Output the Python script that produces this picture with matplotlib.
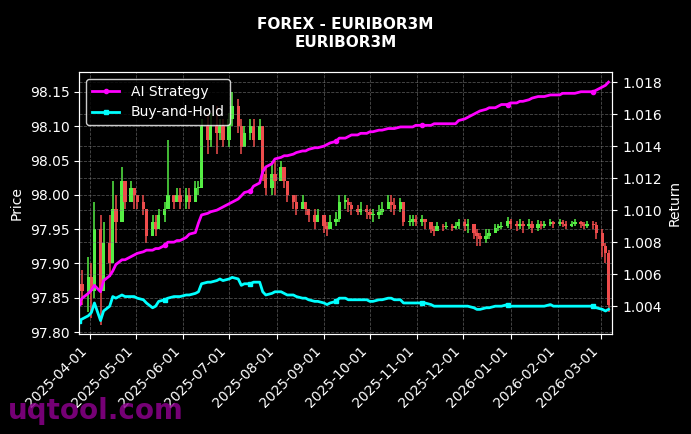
import matplotlib
matplotlib.use("Agg")
import matplotlib.pyplot as plt
import matplotlib.dates as mdates
import numpy as np
import pandas as pd

# price candles (every second trading day)
close = [97.87, 97.86, 97.88, 97.86, 97.95, 97.86, 97.93, 97.90, 97.98, 97.96,
         98.02, 97.99, 98.01, 98.00, 97.99, 97.98, 97.94, 97.96, 97.95, 97.97,
         97.98, 98.00, 97.99, 98.00, 97.99, 98.00, 97.99, 98.01, 98.01, 98.10,
         98.08, 98.10, 98.09, 98.10, 98.08, 98.11, 98.13, 98.10, 98.07, 98.09,
         98.10, 98.08, 98.10, 98.03, 98.01, 98.03, 98.02, 98.04, 98.02, 98.00,
         97.99, 97.98, 97.99, 97.98, 97.97, 97.96, 97.97, 97.955, 97.95, 97.96,
         97.965, 97.99, 97.99, 97.985, 97.98, 97.975, 97.98, 97.975, 97.97, 97.97,
         97.975, 97.98, 97.99, 97.985, 97.98, 97.99, 97.96, 97.96, 97.965, 97.96,
         97.965, 97.96, 97.95, 97.948, 97.955, 97.953, 97.955, 97.952, 97.955, 97.96,
         97.955, 97.958, 97.945, 97.94, 97.935, 97.94, 97.945, 97.952, 97.953, 97.955,
         97.962, 97.958, 97.955, 97.958, 97.955, 97.958, 97.952, 97.957, 97.955, 97.958,
         97.96, 97.957, 97.96, 97.958, 97.955, 97.958, 97.96, 97.957, 97.955, 97.958,
         97.956, 97.945, 97.925, 97.915, 97.84]
high = [97.89, 97.89, 97.91, 97.90, 97.99, 97.97, 97.96, 97.97, 98.02, 98.00,
        98.04, 98.02, 98.02, 98.01, 98.00, 98.00, 97.98, 97.97, 97.97, 97.98,
        97.99, 98.08, 98.00, 98.01, 98.01, 98.01, 98.01, 98.02, 98.02, 98.11,
        98.12, 98.12, 98.13, 98.11, 98.11, 98.12, 98.15, 98.14, 98.11, 98.10,
        98.11, 98.11, 98.11, 98.10, 98.04, 98.05, 98.05, 98.05, 98.04, 98.02,
        98.00, 98.00, 98.00, 97.99, 97.98, 97.98, 97.98, 97.97, 97.96, 97.97,
        97.975, 98.00, 98.00, 97.995, 97.99, 97.985, 97.99, 97.985, 97.98, 97.98,
        97.985, 97.99, 98.00, 98.00, 97.995, 97.995, 97.99, 97.97, 97.97, 97.97,
        97.97, 97.965, 97.96, 97.955, 97.96, 97.958, 97.96, 97.958, 97.96, 97.965,
        97.965, 97.965, 97.955, 97.95, 97.945, 97.95, 97.95, 97.957, 97.958, 97.96,
        97.968, 97.965, 97.962, 97.965, 97.962, 97.965, 97.962, 97.963, 97.962, 97.962,
        97.965, 97.962, 97.965, 97.963, 97.962, 97.962, 97.965, 97.962, 97.96, 97.962,
        97.962, 97.96, 97.95, 97.93, 97.92]
low = [97.85, 97.84, 97.83, 97.82, 97.85, 97.81, 97.86, 97.88, 97.91, 97.93,
       97.97, 97.98, 97.99, 97.98, 97.98, 97.97, 97.93, 97.94, 97.94, 97.95,
       97.96, 97.98, 97.98, 97.99, 97.98, 97.98, 97.98, 97.99, 98.00, 98.01,
       98.06, 98.07, 98.06, 98.08, 98.07, 98.07, 98.10, 98.09, 98.06, 98.08,
       98.08, 98.07, 98.08, 98.02, 98.00, 98.00, 98.00, 98.02, 98.01, 97.99,
       97.98, 97.97, 97.98, 97.97, 97.96, 97.95, 97.96, 97.945, 97.94, 97.955,
       97.955, 97.96, 97.98, 97.975, 97.97, 97.97, 97.97, 97.965, 97.965, 97.96,
       97.965, 97.97, 97.98, 97.975, 97.97, 97.975, 97.955, 97.955, 97.955, 97.955,
       97.955, 97.95, 97.945, 97.94, 97.95, 97.948, 97.95, 97.948, 97.95, 97.95,
       97.948, 97.945, 97.935, 97.925, 97.925, 97.93, 97.935, 97.948, 97.948, 97.95,
       97.952, 97.95, 97.948, 97.95, 97.945, 97.95, 97.945, 97.948, 97.95, 97.952,
       97.955, 97.952, 97.955, 97.953, 97.95, 97.953, 97.955, 97.952, 97.95, 97.952,
       97.95, 97.935, 97.91, 97.90, 97.83]
first_open = 97.86

# cumulative returns
ai_strategy = [1.0042, 1.0045, 1.0048, 1.0050, 1.0053, 1.0049, 1.0056, 1.0059, 1.0062, 1.0066,
               1.0069, 1.0069, 1.0071, 1.0072, 1.0073, 1.0074, 1.0075, 1.0075, 1.0076, 1.0076,
               1.0078, 1.0080, 1.0080, 1.0081, 1.0081, 1.0083, 1.0085, 1.0086, 1.0092, 1.0097,
               1.0098, 1.0099, 1.0100, 1.0101, 1.0102, 1.0104, 1.0105, 1.0107, 1.0109, 1.0111,
               1.0112, 1.0115, 1.0117, 1.0124, 1.0127, 1.0129, 1.0132, 1.0133, 1.0134, 1.0134,
               1.0135, 1.0136, 1.0137, 1.0137, 1.0138, 1.0139, 1.0139, 1.0140, 1.0141, 1.0142,
               1.0143, 1.0145, 1.0145, 1.0146, 1.0147, 1.0147, 1.0148, 1.0148, 1.0149, 1.0149,
               1.0150, 1.0150, 1.0151, 1.0151, 1.0151, 1.0152, 1.0152, 1.0152, 1.0152, 1.0153,
               1.0153, 1.0153, 1.0153, 1.0154, 1.0154, 1.0154, 1.0154, 1.0154, 1.0154, 1.0156,
               1.0157, 1.0158, 1.0160, 1.0161, 1.0162, 1.0163, 1.0164, 1.0164, 1.0165, 1.0166,
               1.0166, 1.0167, 1.0167, 1.0168, 1.0168, 1.0169, 1.0170, 1.0171, 1.0171, 1.0171,
               1.0172, 1.0172, 1.0172, 1.0173, 1.0173, 1.0173, 1.0173, 1.0174, 1.0174, 1.0174,
               1.0174, 1.0175, 1.0177, 1.0178, 1.0180]
buy_hold = [1.0031, 1.0032, 1.0034, 1.0036, 1.0042, 1.0031, 1.0037, 1.0040, 1.0046, 1.0045,
            1.0047, 1.0046, 1.0046, 1.0046, 1.0045, 1.0044, 1.0042, 1.0039, 1.0040, 1.0043,
            1.0044, 1.0045, 1.0046, 1.0046, 1.0046, 1.0047, 1.0047, 1.0048, 1.0049, 1.0054,
            1.0055, 1.0055, 1.0056, 1.0057, 1.0056, 1.0057, 1.0058, 1.0057, 1.0053, 1.0054,
            1.0054, 1.0055, 1.0055, 1.0049, 1.0047, 1.0048, 1.0049, 1.0049, 1.0048, 1.0047,
            1.0047, 1.0046, 1.0045, 1.0045, 1.0044, 1.0043, 1.0043, 1.0042, 1.0041, 1.0042,
            1.0043, 1.0045, 1.0045, 1.0044, 1.0044, 1.0044, 1.0044, 1.0044, 1.0043, 1.0043,
            1.0044, 1.0044, 1.0045, 1.0045, 1.0044, 1.0044, 1.0042, 1.0042, 1.0042, 1.0042,
            1.0042, 1.0042, 1.0041, 1.0040, 1.0040, 1.0040, 1.0040, 1.0040, 1.0040, 1.0040,
            1.0040, 1.0040, 1.0039, 1.0038, 1.0038, 1.0039, 1.0039, 1.0040, 1.0040, 1.0040,
            1.0041, 1.0040, 1.0040, 1.0040, 1.0040, 1.0040, 1.0040, 1.0040, 1.0040, 1.0040,
            1.0041, 1.0040, 1.0040, 1.0040, 1.0040, 1.0040, 1.0040, 1.0040, 1.0040, 1.0040,
            1.0040, 1.0039, 1.0038, 1.0037, 1.0038]

dates = pd.bdate_range("2025-03-25", periods=len(close), freq="2B")
opens = [first_open] + close[:-1]

plt.rcParams["font.family"] = "DejaVu Sans"
fig, ax = plt.subplots(figsize=(6.91, 4.34), dpi=100)
fig.patch.set_facecolor("black")
ax.set_facecolor("black")
fig.subplots_adjust(left=0.1145, right=0.886, top=0.834, bottom=0.230)

x = mdates.date2num(dates)
o = np.array(opens)
c = np.array(close)
up = c >= o
cols = np.where(up, "#55ee44", "#ee4c4c")
ax.vlines(x, low, high, colors=cols, linewidth=1.1)
body_h = np.maximum(np.abs(c - o), 0.002)
ax.bar(x, body_h, bottom=np.minimum(o, c), width=2.2, color=cols, linewidth=0)

ax.set_ylim(97.797, 98.179)
ax.set_xlim(mdates.datestr2num("2025-03-25"), mdates.datestr2num("2026-03-08 10:00"))
ax.set_ylabel("Price", color="white")
ax.xaxis.set_major_locator(mdates.MonthLocator())
ax.xaxis.set_major_formatter(mdates.DateFormatter("%Y-%m-%d"))
plt.setp(ax.get_xticklabels(), rotation=45, ha="right")
ax.grid(True, color="gray", linestyle="--", linewidth=0.6, alpha=0.6)

ax2 = ax.twinx()
ax2.plot(x, ai_strategy, color="#ff00ff", linewidth=2, marker="o", markersize=3,
         markevery=20, label="AI Strategy")
ax2.plot(x, buy_hold, color="#00ffff", linewidth=2, marker="s", markersize=3,
         markevery=20, label="Buy-and-Hold")
ax2.set_ylim(1.00225, 1.01863)
ax2.set_ylabel("Return", color="white")
ax2.grid(True, color="gray", linestyle="--", linewidth=0.6, alpha=0.6)

for a in [ax, ax2]:
    a.tick_params(colors="white", labelsize=10)
    for s in a.spines.values():
        s.set_color("white")

leg = ax2.legend(loc="upper left", facecolor="black", edgecolor="white", fontsize=10)
for t in leg.get_texts():
    t.set_color("white")

fig.text(0.5, 0.96, "FOREX - EURIBOR3M\nEURIBOR3M", ha="center", va="top",
         color="white", fontsize=11, fontweight="bold")
fig.text(0.012, 0.035, "uqtool.com", color="#8b008b", fontsize=20, fontweight="bold",
         alpha=0.85)

fig.savefig("out.png", dpi=100, facecolor="black")
